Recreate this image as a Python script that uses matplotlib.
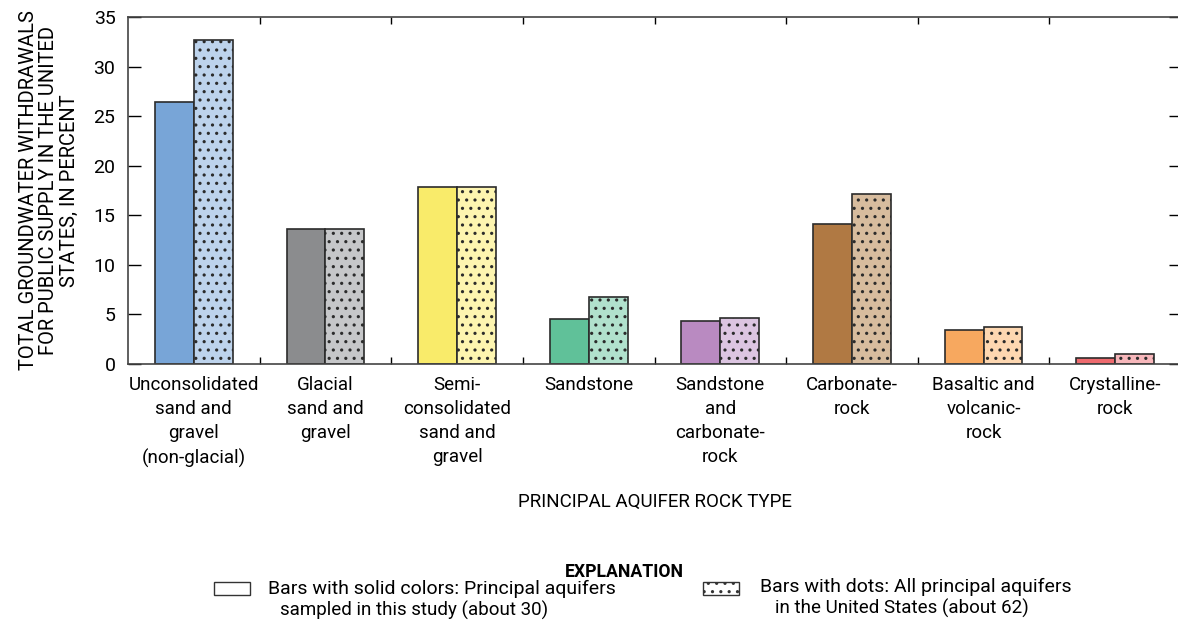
import numpy as np
import matplotlib.pyplot as plt
from matplotlib.patches import Rectangle

# datos
categorias = ['Unconsolidated\nsand and\ngravel\n(non-glacial)', 'Glacial\nsand and\ngravel',
              'Semi-\nconsolidated\nsand and\ngravel', 'Sandstone',
              'Sandstone\nand\ncarbonate-\nrock', 'Carbonate-\nrock',
              'Basaltic and\nvolcanic-\nrock', 'Crystalline-\nrock']
muestreados = [26.4, 13.6, 17.9, 4.5, 4.3, 14.1, 3.4, 0.6]
todos = [32.7, 13.6, 17.9, 6.8, 4.6, 17.1, 3.7, 1.0]

color_solido = ['#78a5d7', '#8b8c8e', '#f9eb6a', '#60c199', '#b98ac1', '#b07943', '#f7a85f', '#ee6a6e']
color_claro = ['#bdd3ec', '#c6c7c9', '#fdf5b0', '#b1e1cd', '#dcc5e1', '#d7bc9e', '#fdd7b1', '#f7b7bb']

plt.rcParams['font.family'] = ['Roboto', 'DejaVu Sans']
plt.rcParams['hatch.linewidth'] = 1.1
tam = 13.5

fig = plt.figure(figsize=(11.78, 6.27), dpi=100)
W, H = 1178, 627
ax = fig.add_axes([128 / W, 1 - 364 / H, (1181 - 128) / W, (364 - 17) / H])

x = np.arange(len(categorias))
ancho = 0.295
borde = '#2b2b2b'
for i in x:
    ax.bar(i - ancho / 2, muestreados[i], ancho, color=color_solido[i], edgecolor=borde, linewidth=1.2)
    ax.bar(i + ancho / 2, todos[i], ancho, color=color_claro[i], edgecolor=borde, linewidth=1.2,
           hatch='..')

ax.set_xlim(-0.5, 7.5)
ax.set_ylim(0, 35)
ax.set_yticks(range(0, 36, 5))
ax.tick_params(axis='y', direction='in', length=9, width=1, labelsize=tam + 0.5, right=True, pad=9)
ax.set_xticks(x)
ax.set_xticklabels(categorias, fontsize=tam, linespacing=1.42, va='top')
ax.tick_params(axis='x', length=0, pad=9)
ax.set_xticks(np.arange(0.5, 7.5, 1), minor=True)
ax.tick_params(axis='x', which='minor', direction='in', length=5, width=1, top=True)
for s in ax.spines.values():
    s.set_color('#444444')
    s.set_linewidth(1.2)

ax.set_xlabel('PRINCIPAL AQUIFER ROCK TYPE', fontsize=tam, labelpad=0)
ax.xaxis.set_label_coords((655 - 128) / (1181 - 128), -(493 - 364) / (364 - 17))
ax.set_ylabel('TOTAL GROUNDWATER WITHDRAWALS\nFOR PUBLIC SUPPLY IN THE UNITED\nSTATES, IN PERCENT',
              fontsize=14.5, linespacing=1.1)
ax.yaxis.set_label_coords(-(128 - 79) / (1181 - 128), 0.5)

# leyenda
fig.text(624 / W, 1 - 572 / H, 'EXPLANATION', fontsize=12.7, fontweight='bold', ha='center', va='center')
fig.patches.append(Rectangle((214 / W, 1 - 595 / H), 36 / W, 13 / H, transform=fig.transFigure,
                             facecolor='white', edgecolor='#333333', linewidth=1))
fig.patches.append(Rectangle((703 / W, 1 - 595 / H), 36 / W, 13 / H, transform=fig.transFigure,
                             facecolor='white', edgecolor='#333333', linewidth=1, hatch='..'))
fig.text(268 / W, 1 - 589 / H, 'Bars with solid colors: Principal aquifers', fontsize=14, va='center')
fig.text(280 / W, 1 - 610 / H, 'sampled in this study (about 30)', fontsize=13.5, va='center')
fig.text(760 / W, 1 - 587 / H, 'Bars with dots: All principal aquifers', fontsize=14, va='center')
fig.text(775 / W, 1 - 608 / H, 'in the United States (about 62)', fontsize=13.5, va='center')

fig.savefig('out.png', dpi=100)
